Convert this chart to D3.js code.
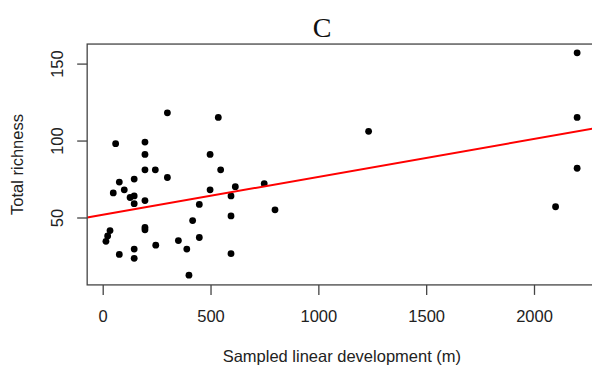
<!DOCTYPE html>
<html>
<head>
<meta charset="utf-8">
<script src="https://cdn.jsdelivr.net/npm/d3@7"></script>
<style>
  html, body { margin: 0; padding: 0; background: #fff; }
  svg { display: block; }
  text { font-family: "Liberation Sans", Arial, sans-serif; fill: #222; }
</style>
</head>
<body>
<svg id="chart" width="592" height="367"></svg>
<script>
// ---- data ----
const title = "C";
const xLabel = "Sampled linear development (m)";
const yLabel = "Total richness";
const xTicks = [0, 500, 1000, 1500, 2000];
const yTicks = [50, 100, 150];
const lengthM = [300, 536, 60, 196, 196, 498, 196, 244, 547, 300, 146, 77, 100, 498, 615, 749, 49, 146, 127, 196,
                 595, 448, 146, 799, 595, 417, 34, 23, 15, 196, 196, 246, 351, 448, 390, 146, 146, 77, 595, 400,
                 1233, 2200, 2200, 2200, 2100];
const richness = [118, 115, 98, 99, 91, 91, 81, 81, 81, 76, 75, 73, 68, 68, 70, 72, 66, 64, 63, 61,
                  64, 58.5, 59, 55, 51, 48, 41.5, 38, 34.5, 43.5, 42, 32, 35, 37, 29.5, 29.5, 23.5, 26, 26.5, 12.5,
                  106, 157, 115, 82, 57];
const fitIntercept = 51.8;
const fitSlope = 0.0246;
const xExtent = [-72, 2290];
const yExtent = [6.2, 162.7];

// ---- layout ----
const svg = d3.select("#chart");
const x = d3.scaleLinear().domain([0, 2000]).range([102.7, 534]);
const y = d3.scaleLinear().domain([50, 150]).range([217.5, 63.6]);
const pLeft = x(xExtent[0]), pRight = x(xExtent[1]);
const pTop = y(yExtent[1]), pBottom = y(yExtent[0]);

svg.append("defs").append("clipPath").attr("id", "clip")
  .append("rect").attr("x", pLeft).attr("y", pTop)
  .attr("width", pRight - pLeft).attr("height", pBottom - pTop);

// title
svg.append("text").attr("x", 322).attr("y", 36.5)
  .attr("text-anchor", "middle")
  .style("font-family", "'Liberation Serif', 'Times New Roman', serif")
  .style("font-size", "28px").style("fill", "#111")
  .text(title);

// points
svg.append("g").attr("clip-path", "url(#clip)")
  .selectAll("circle").data(lengthM.map((d, i) => [d, richness[i]]))
  .join("circle")
  .attr("cx", d => x(d[0])).attr("cy", d => y(d[1]))
  .attr("r", 3.4).attr("fill", "#000");

// regression line
svg.append("line").attr("clip-path", "url(#clip)")
  .attr("x1", x(xExtent[0])).attr("y1", y(fitIntercept + fitSlope * xExtent[0]))
  .attr("x2", x(xExtent[1])).attr("y2", y(fitIntercept + fitSlope * xExtent[1]))
  .attr("stroke", "#ff0000").attr("stroke-width", 2);

// box
svg.append("rect").attr("x", pLeft).attr("y", pTop)
  .attr("width", pRight - pLeft).attr("height", pBottom - pTop)
  .attr("fill", "none").attr("stroke", "#444").attr("stroke-width", 1.3);

// x axis
const gx = svg.append("g").attr("transform", `translate(0,${pBottom})`)
  .call(d3.axisBottom(x).tickValues(xTicks).tickSize(10).tickFormat(d3.format("d")));
gx.select(".domain").remove();
gx.selectAll(".tick line").attr("stroke", "#444").attr("stroke-width", 1.3);
gx.selectAll(".tick text").attr("dy", null).attr("y", 37.2)
  .style("font-size", "16.5px").style("font-family", "'Liberation Sans', Arial, sans-serif").attr("fill", "#222");

// y axis
const gy = svg.append("g").attr("transform", `translate(${pLeft},0)`)
  .call(d3.axisLeft(y).tickValues(yTicks).tickSize(10).tickFormat(d3.format("d")));
gy.select(".domain").remove();
gy.selectAll(".tick line").attr("stroke", "#444").attr("stroke-width", 1.3);
gy.selectAll(".tick text").attr("dy", null).attr("x", 0).attr("y", -(pLeft - 63))
  .attr("transform", "rotate(-90)").attr("text-anchor", "middle")
  .style("font-size", "16.5px").style("font-family", "'Liberation Sans', Arial, sans-serif").attr("fill", "#222");

// axis labels
svg.append("text").attr("x", (pLeft + pRight) / 2).attr("y", 362)
  .attr("text-anchor", "middle").style("font-size", "16.5px")
  .text(xLabel);
svg.append("text")
  .attr("transform", `translate(23,${(pTop + pBottom) / 2}) rotate(-90)`)
  .attr("text-anchor", "middle").style("font-size", "16.5px")
  .text(yLabel);
</script>
</body>
</html>
